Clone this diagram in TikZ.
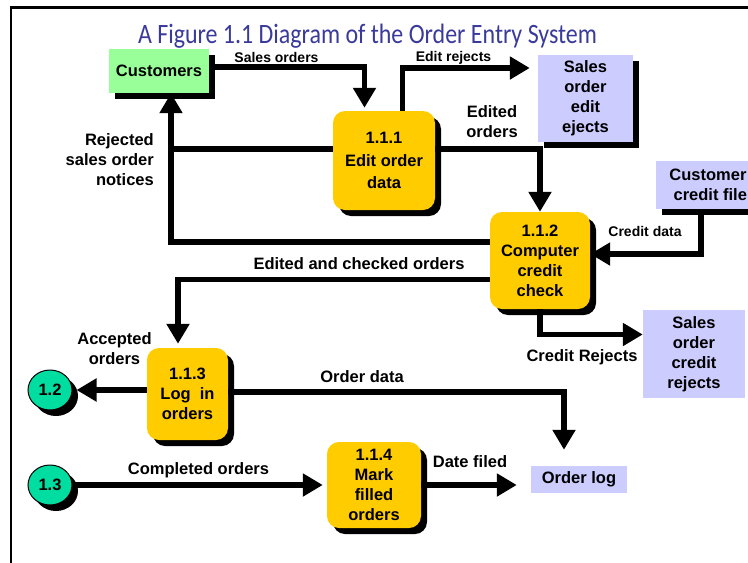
\documentclass[tikz,border=0pt]{standalone}
\usepackage{fontspec}
\usepackage{graphicx}
\setmainfont{Liberation Sans}
\newfontfamily\titlefont{Carlito}
\usetikzlibrary{arrows.meta,shapes.geometric,shadows}
\definecolor{procY}{RGB}{255,204,0}
\definecolor{extG}{RGB}{153,255,153}
\definecolor{storeL}{RGB}{204,204,255}
\definecolor{connC}{RGB}{0,221,160}
\definecolor{titleB}{RGB}{58,58,155}
\begin{document}
\begin{tikzpicture}[x=1pt,y=-1pt,
  txt/.style={font=\fontsize{16.5}{20}\selectfont\bfseries, align=center, inner sep=0pt},
  small/.style={font=\fontsize{14}{17}\selectfont\bfseries, inner sep=0pt},
  shad/.style={drop shadow={shadow xshift=6pt, shadow yshift=-6pt, opacity=1, fill=black}},
  proc/.style={txt, fill=procY, rounded corners=12pt, shad},
  ext/.style={txt, fill=extG, shad},
  store/.style={txt, fill=storeL},
  conn/.style={txt, ellipse, fill=connC, draw=black, line width=1pt, minimum width=44pt, minimum height=40pt, shad},
  lbl/.style={txt},
  flow/.style={line width=5.5pt, -{Triangle[length=20pt,width=22pt]}},
  wire/.style={line width=5.5pt}
]
\useasboundingbox (0,0) rectangle (748,563);
\clip (0,0) rectangle (748,563);
\fill[white] (0,0) rectangle (748,563);
% frame
\draw[line width=2.5pt] (11,570) -- (11,7.5) -- (760,7.5);
% title
\node[anchor=base, text=titleB, inner sep=0pt] (title) at (367.5,43)
  {\resizebox{459pt}{\height}{\titlefont\fontsize{28}{28}\selectfont A Figure 1.1 Diagram of the Order Entry System}};
% nodes
\node[ext, minimum width=100pt, minimum height=44pt] (cust) at (159,71) {Customers};
\node[proc, minimum width=102pt, minimum height=99pt, font=\fontsize{16.5}{22.5}\selectfont\bfseries] (p1) at (384,160.5) {1.1.1\\Edit order\\data};
\node[store, shad, minimum width=95pt, minimum height=87pt] (ej) at (585.5,98.5) {Sales\\order\\edit\\ejects};
\node[proc, minimum width=100pt, minimum height=97pt] (p2) at (540,260.5) {1.1.2\\Computer\\credit\\check};
\node[store, shad, minimum width=104pt, minimum height=48pt] (cf) at (708,185) {Customer\\\ credit file};
\node[store, minimum width=102pt, minimum height=88pt] (cr) at (694,354) {Sales\\order\\credit\\rejects};
\node[proc, minimum width=81pt, minimum height=92pt] (p3) at (187.5,394) {1.1.3\\Log\ \ in\\orders};
\node[conn] (c12) at (50,390) {1.2};
\node[conn] (c13) at (50,485) {1.3};
\node[proc, minimum width=94pt, minimum height=86pt] (p4) at (374,485) {1.1.4\\Mark\\filled\\orders};
\node[store, minimum width=96pt, minimum height=27pt] (ol) at (579,479.5) {Order log};
\coordinate (rj) at (171,149);
% connectors
\draw[flow, shorten >=3pt] ([yshift=4pt]cust.east) -| ([xshift=-19.5pt]p1.north);
\draw[flow, shorten >=8pt] ([xshift=18.5pt]p1.north) |- ([yshift=30.5pt]ej.west);
\draw[flow] ([yshift=11.5pt]p1.east) -| (p2.north);
\draw[wire] ([yshift=11.5pt]p1.west) -- (rj);
\draw[flow] ([yshift=18.5pt]p2.west) -| ([xshift=12pt]cust.south);
\draw[flow] ([xshift=-7pt]cf.south) |- ([yshift=6.5pt]p2.east);
\draw[flow, shorten >=4pt] ([yshift=-19pt]p2.west) -| ([xshift=-9.5pt]p3.north);
\draw[flow] (p2.south) |- ([yshift=19.5pt]cr.west);
\draw[flow, shorten >=4pt] (p3.west |- c12.east) -- (c12.east);
\draw[flow, shorten >=16pt] ([yshift=2pt]p3.east) -| ([xshift=-15pt]ol.north);
\draw[flow, shorten >=4pt] (c13.east) -- (p4.west |- c13.east);
\draw[flow, shorten >=14pt] (p4.east) -- (p4.east -| ol.west);
% labels
\node[small] (lso) at (276.5,57) {Sales orders};
\node[small] (ler) at (453.5,58) {Edit rejects};
\node[lbl] (leo) at (492,122) {Edited\\orders};
\node[lbl, align=right, anchor=east] (lrj) at (154,160) {Rejected\\sales order\\notices};
\node[small] (lcd) at (645,231) {Credit data};
\node[lbl] (lec) at (359,264) {Edited and checked orders};
\node[lbl] (lcr) at (582,357) {Credit Rejects};
\node[lbl] (lao) at (114.5,348.5) {Accepted\\orders};
\node[lbl] (lod) at (362,377) {Order data};
\node[lbl] (lco) at (198.5,470) {Completed orders};
\node[lbl] (ldf) at (470,462) {Date filed};
\end{tikzpicture}
\end{document}
